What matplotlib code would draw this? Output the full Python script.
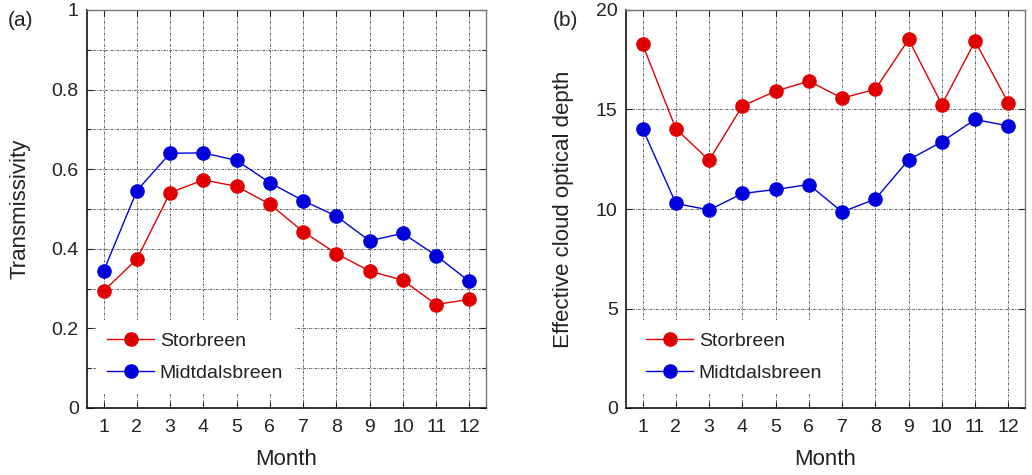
import matplotlib
matplotlib.use("Agg")
import matplotlib.pyplot as plt
from matplotlib.ticker import MultipleLocator

plt.rcParams['font.family'] = ['Liberation Sans', 'DejaVu Sans']

months = list(range(1, 13))
month_labels = [str(m) for m in months]

trans_storbreen = [0.294, 0.374, 0.541, 0.573, 0.557, 0.512, 0.443, 0.388, 0.344, 0.321, 0.260, 0.273]
trans_midtdals = [0.344, 0.546, 0.640, 0.641, 0.622, 0.566, 0.521, 0.482, 0.420, 0.439, 0.383, 0.318]

tau_storbreen = [18.27, 14.03, 12.45, 15.18, 15.92, 16.43, 15.57, 16.02, 18.52, 15.25, 18.43, 15.33]
tau_midtdals = [14.03, 10.28, 9.95, 10.78, 10.98, 11.23, 9.85, 10.50, 12.47, 13.38, 14.50, 14.17]

RED = '#e00000'
BLUE = '#0000dd'
TXT = '#222222'

fig = plt.figure(figsize=(10.32, 4.75), dpi=100)
ax1 = fig.add_axes([87/1032, 1-408/475, (486-87)/1032, (408-10)/475])
ax2 = fig.add_axes([626/1032, 1-408/475, (1025-626)/1032, (408-10)/475])

def style(ax, ymax, major, minor):
    ax.set_xlim(0.5, 12.5)
    ax.set_ylim(0, ymax)
    ax.set_xticks(months)
    ax.set_xticklabels(month_labels)
    ax.yaxis.set_major_locator(MultipleLocator(major))
    if minor:
        ax.yaxis.set_minor_locator(MultipleLocator(minor))
    ax.tick_params(axis='both', which='both', direction='in', top=True, right=True,
                   labelsize=14, labelcolor=TXT, color='#222222', length=4, width=0.8)
    ax.tick_params(axis='x', which='major', pad=8)
    ax.tick_params(axis='y', which='major', pad=6)
    ax.tick_params(axis='both', which='minor', length=3)
    ax.tick_params(axis='x', which='minor', bottom=False, top=False)
    ax.grid(True, which='both', linestyle=(0, (3, 1.5, 1, 1.5)), linewidth=0.6, color='#444444')
    ax.set_axisbelow(True)
    for s in ['left', 'bottom']:
        ax.spines[s].set_color('#111111')
        ax.spines[s].set_linewidth(1.2)
    for s in ['top', 'right']:
        ax.spines[s].set_color('#777777')
        ax.spines[s].set_linewidth(1.0)
    ax.set_xlabel('Month', fontsize=16, labelpad=9, color=TXT)

def plot(ax, a, b):
    ax.plot(months, a, '-o', color=RED, lw=1.0, ms=9.5, label='Storbreen', zorder=3)
    ax.plot(months, b, '-o', color=BLUE, lw=1.0, ms=9.5, label='Midtdalsbreen', zorder=3)
    leg = ax.legend(loc='lower left', bbox_to_anchor=(0.012, 0.027), frameon=True,
                    fontsize=14, handlelength=2.4, borderaxespad=0.2,
                    labelspacing=0.75, handletextpad=0.3, borderpad=0.6)
    leg.get_frame().set_edgecolor('none')
    leg.get_frame().set_facecolor('white')
    leg.get_frame().set_alpha(1.0)
    leg.set_zorder(2.5)
    for t in leg.get_texts():
        t.set_color(TXT)

plot(ax1, trans_storbreen, trans_midtdals)
style(ax1, 1.0, 0.2, 0.1)
ax1.set_yticks([0, 0.2, 0.4, 0.6, 0.8, 1.0])
ax1.set_yticklabels(['0', '0.2', '0.4', '0.6', '0.8', '1'])
ax1.set_ylabel('Transmissivity', fontsize=16, labelpad=15, color=TXT)

plot(ax2, tau_storbreen, tau_midtdals)
style(ax2, 20, 5, None)
ax2.set_ylabel('Effective cloud optical depth', fontsize=16, labelpad=16, color=TXT)

fig.text(8/1032, 1-20/475, '(a)', fontsize=15, va='center', ha='left', color=TXT)
fig.text(553/1032, 1-20/475, '(b)', fontsize=15, va='center', ha='left', color=TXT)

fig.savefig('out.png', dpi=100)
